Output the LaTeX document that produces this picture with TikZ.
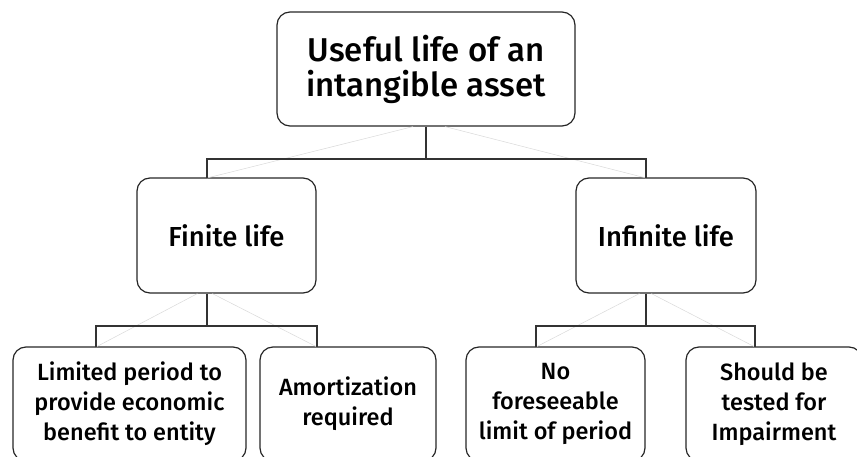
\documentclass[tikz,border=0pt]{standalone}
\usepackage{fontspec}
\setmainfont{Fira Sans}[UprightFont=* Medium]
\usetikzlibrary{calc}
\begin{document}
\begin{tikzpicture}[x=1pt,y=-1pt,
  box/.style={draw=black!85, line width=1.2pt, rounded corners=13pt,
    align=center, inner sep=0pt, text=black},
  conn/.style={draw=black!80, line width=1.1pt},
  ghost/.style={draw=black!15, line width=0.5pt},
  toptxt/.style={font=\fontsize{33}{35}\selectfont},
  midtxt/.style={font=\fontsize{27.5}{32}\selectfont},
  leaftxt/.style={font=\fontsize{23.5}{30}\selectfont}]
\useasboundingbox (0,0) rectangle (857,457);
\clip (0,0) rectangle (857,457);

% boxes
\node[box, toptxt, minimum width=298pt, minimum height=114pt] (root) at (426,69)
  {Useful life of an\\intangible asset};
\node[box, midtxt, minimum width=179pt, minimum height=115pt] (fin) at (226.5,235.5)
  {Finite life};
\node[box, midtxt, minimum width=180pt, minimum height=115pt] (inf) at (666,235.5)
  {Infinite life};
\node[box, leaftxt, minimum width=233pt, minimum height=114pt] (l1) at (129.5,404)
  {Limited period to\\provide economic\\benefit to entity};
\node[box, leaftxt, minimum width=176pt, minimum height=114pt] (l2) at (348,404)
  {Amortization\\required};
\node[box, leaftxt, minimum width=179pt, minimum height=114pt] (l3) at (555.5,404)
  {No\\foreseeable\\limit of period};
\node[box, leaftxt, minimum width=176pt, minimum height=114pt] (l4) at (774,404)
  {Should be\\tested for\\Impairment};

% drop points on the upper edges of the child boxes
\coordinate (jFin) at (207,178);
\coordinate (jInf) at (646,178);
\coordinate (j1) at (96,347);
\coordinate (j2) at (317,347);
\coordinate (j3) at (536,347);
\coordinate (j4) at (755,347);
% bus heights
\coordinate (b0) at (root.south |- 0,159);
\coordinate (b1) at (207,326);
\coordinate (b2) at (646,326);

% faint guide lines under the connectors
\draw[ghost] ($(root.south)+(-13,0)$) -- (jFin);
\draw[ghost] ($(root.south)+(19,0)$) -- (jInf);
\draw[ghost] ($(fin.south west)+(61,0)$) -- (j1);
\draw[ghost] ($(fin.south west)+(76,0)$) -- (j2);
\draw[ghost] ($(inf.south west)+(64,0)$) -- (j3);
\draw[ghost] ($(inf.south west)+(76,0)$) -- (j4);

% connectors
\draw[conn] (root.south) -- (b0);
\draw[conn] (jFin) |- (b0) -| (jInf);
\draw[conn] (fin.south -| b1) -- (b1);
\draw[conn] (j1) |- (b1) -| (j2);
\draw[conn] (inf.south -| b2) -- (b2);
\draw[conn] (j3) |- (b2) -| (j4);
\end{tikzpicture}
\end{document}
